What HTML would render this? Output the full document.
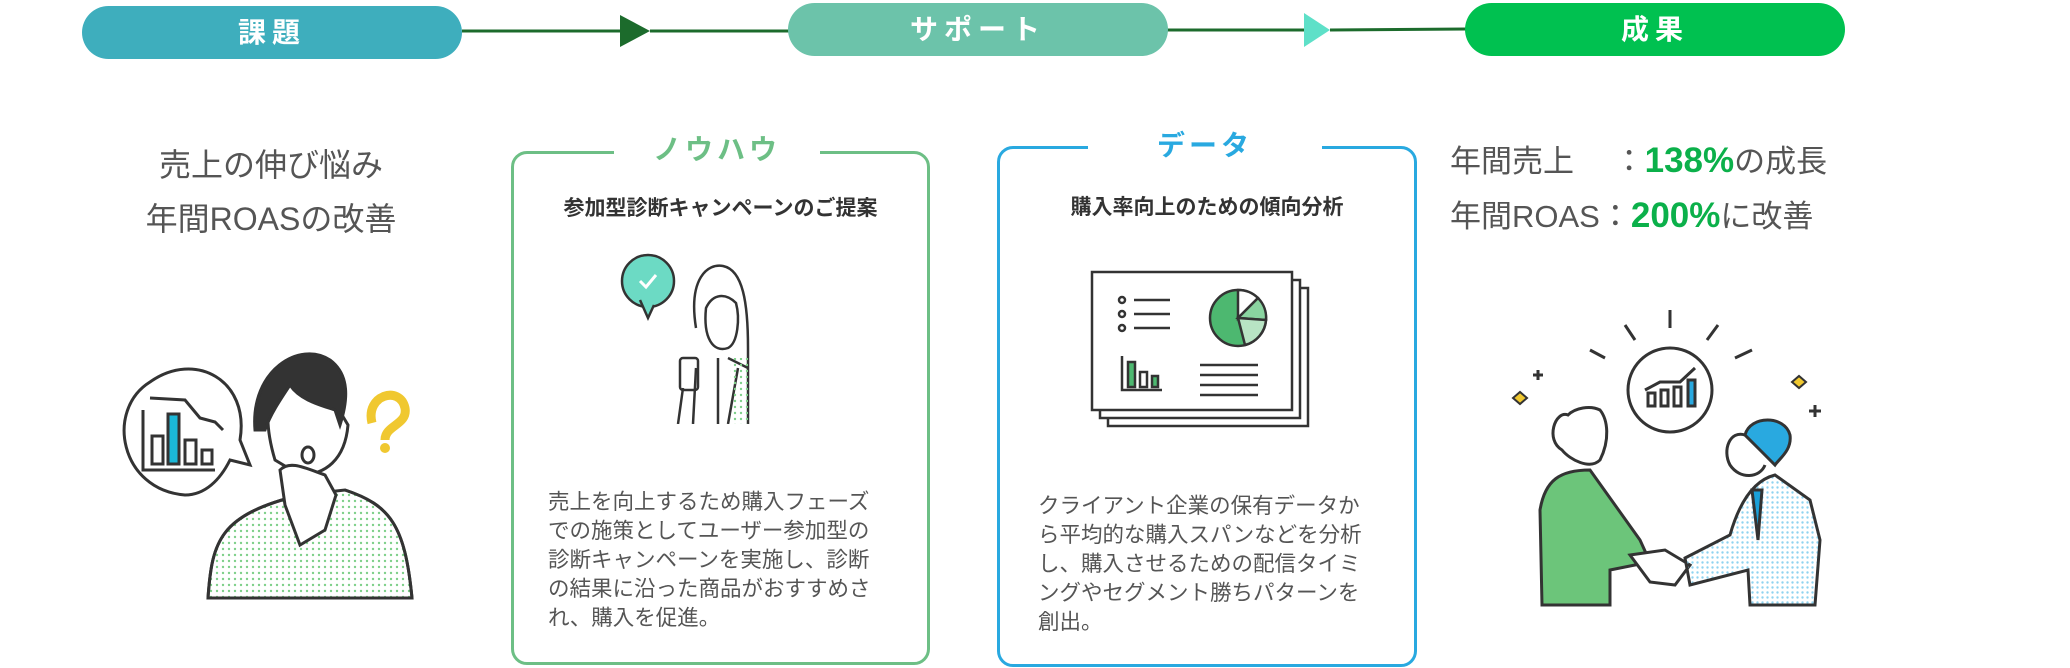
<!DOCTYPE html>
<html><head><meta charset="utf-8"><style>
body{margin:0;width:2070px;height:668px;background:#fff;position:relative;overflow:hidden;font-family:"Liberation Sans","Noto Sans CJK JP",sans-serif;color:#444}
.a{position:absolute}
.pill{position:absolute;border-radius:30px;color:#fff;font-weight:bold;font-size:28px;text-align:center;letter-spacing:6px}
.box{position:absolute;border:3px solid;border-radius:16px;background:#fff}
.tt{position:absolute;background:#fff;font-weight:bold;font-size:28px;text-align:center;letter-spacing:4px}
.sub{position:absolute;left:0;right:0;text-align:center;font-weight:bold;font-size:21px;color:#333;white-space:nowrap}
.body{position:absolute;font-size:21.5px;line-height:29px;color:#555;white-space:nowrap}
</style></head><body>
<svg class="a" style="left:0;top:0" width="2070" height="80">
<line x1="462" y1="31" x2="625" y2="31" stroke="#1c6b2c" stroke-width="3"/>
<polygon points="620,15 650,31 620,47" fill="#1c6b2c"/>
<line x1="650" y1="31" x2="790" y2="31" stroke="#1c6b2c" stroke-width="3"/>
<line x1="1166" y1="30" x2="1305" y2="30" stroke="#1c6b2c" stroke-width="3"/>
<polygon points="1304,13 1330,30 1304,47" fill="#5ee0c8"/>
<line x1="1330" y1="30" x2="1466" y2="29" stroke="#1c6b2c" stroke-width="3"/>
</svg>
<div class="pill" style="left:82px;top:6px;width:380px;height:53px;line-height:53px;background:#3eaebd">課題</div>
<div class="pill" style="left:788px;top:3px;width:380px;height:53px;line-height:53px;background:#6cc3aa">サポート</div>
<div class="pill" style="left:1465px;top:3px;width:380px;height:53px;line-height:53px;background:#00c150">成果</div>

<div class="a" style="left:120px;top:138px;width:302px;text-align:center;font-size:32px;line-height:54px;color:#555">売上の伸び悩み<br>年間ROASの改善</div>

<div class="box" style="left:511px;top:151px;width:413px;height:508px;border-color:#6dbf85">
<div class="sub" style="top:38px">参加型診断キャンペーンのご提案</div>
<div class="body" style="left:34px;top:334px">売上を向上するため購入フェーズ<br>での施策としてユーザー参加型の<br>診断キャンペーンを実施し、診断<br>の結果に沿った商品がおすすめさ<br>れ、購入を促進。</div>
</div>
<div class="tt" style="left:614px;top:128px;width:206px;color:#6dbf85">ノウハウ</div>

<div class="box" style="left:997px;top:146px;width:414px;height:515px;border-color:#29a9e0">
<div class="sub" style="top:42px">購入率向上のための傾向分析</div>
<div class="body" style="left:38px;top:343px">クライアント企業の保有データか<br>ら平均的な購入スパンなどを分析<br>し、購入させるための配信タイミ<br>ングやセグメント勝ちパターンを<br>創出。</div>
</div>
<div class="tt" style="left:1088px;top:124px;width:234px;color:#29a9e0">データ</div>

<div class="a" style="left:1450px;top:134px;font-size:31px;line-height:54px;color:#555;white-space:nowrap">年間売上　 ：<b style="color:#0bb04a;font-size:35px">138%</b>の成長<br>年間ROAS：<b style="color:#0bb04a;font-size:35px">200%</b>に改善</div>

<!-- left illustration -->
<svg class="a" style="left:100px;top:330px" width="340" height="280" fill="none" stroke="#333" stroke-width="3">
<defs><pattern id="dg" width="6" height="6" patternUnits="userSpaceOnUse"><circle cx="3" cy="3" r="1.2" fill="#7fd08a" stroke="none"/></pattern>
<pattern id="db" width="5" height="5" patternUnits="userSpaceOnUse"><circle cx="2.5" cy="2.5" r="1.2" fill="#8fd3f0" stroke="none"/></pattern></defs>
<path d="M85,165 C20,160 5,80 50,52 C95,20 150,50 140,110 L150,135 L130,130 C120,150 105,165 85,165Z" fill="#fff"/>
<path d="M43,80 V140 H115"/><path d="M50,68 L85,70 L100,88 L115,92 L123,100"/>
<rect x="52" y="106" width="11" height="28"/><rect x="68" y="84" width="11" height="50" fill="#1bb8d8"/><rect x="85" y="110" width="11" height="24"/><rect x="102" y="120" width="10" height="14"/>
<path d="M108,268 C112,210 120,185 200,165 L245,160 C290,175 305,195 312,268Z" fill="url(#dg)"/>
<path d="M108,268 C112,210 120,185 200,165 M245,160 C290,175 305,195 312,268"/>
<path d="M175,130 C160,80 170,45 195,38 L230,65 L248,95 C245,130 225,145 200,145 Z" fill="#fff"/>
<path d="M155,100 C150,40 200,10 230,30 C250,45 248,70 240,95 L235,80 C220,75 200,70 190,55 C180,70 170,85 165,100Z" fill="#333"/>
<ellipse cx="208" cy="125" rx="6" ry="8"/>
<path d="M180,140 C190,130 205,138 225,145 L236,165 L225,200 L200,215 L185,175Z" fill="#fff"/>
<path d="M272,93 C265,65 300,55 305,78 C308,95 285,95 285,110" stroke="#f0c830" stroke-width="9"/><circle cx="285" cy="118" r="5" fill="#f0c830" stroke="none"/>
</svg>

<!-- woman -->
<svg class="a" style="left:618px;top:248px" width="150" height="176" fill="none" stroke="#333" stroke-width="2.5">
<circle cx="30" cy="33" r="26" fill="#6cdac4"/><path d="M22,52 L30,70 L36,57" fill="#6cdac4"/>
<path d="M22,33 L28,39 L38,27" stroke="#fff" stroke-width="3"/>
<path d="M78,80 C70,30 90,15 105,18 C125,22 130,55 130,100 L130,176"/>
<path d="M88,60 C85,90 95,105 110,100 C120,95 122,70 118,55 C108,45 95,45 88,60Z"/>
<path d="M78,120 L75,176 M100,110 L100,176 M110,110 L130,120" />
<rect x="62" y="110" width="18" height="32" rx="3"/>
<path d="M65,140 L60,176 M120,120 L110,176"/>
<rect x="112" y="110" width="18" height="66" fill="url(#dg)" stroke="none"/>
</svg>

<!-- chart docs -->
<svg class="a" style="left:1090px;top:270px" width="220" height="158" fill="none" stroke="#333" stroke-width="2.5">
<rect x="18" y="18" width="200" height="138" fill="#fff"/><rect x="10" y="10" width="200" height="138" fill="#fff"/>
<rect x="2" y="2" width="200" height="138" fill="#fff"/>
<circle cx="32" cy="30" r="3"/><circle cx="32" cy="44" r="3"/><circle cx="32" cy="58" r="3"/>
<path d="M44,30 H80 M44,44 H80 M44,58 H80"/>
<circle cx="148" cy="48" r="28" fill="#4db870"/><path d="M148,48 L148,20 A28,28 0 0 1 168,28Z" fill="#fff"/><path d="M148,48 L168,28 A28,28 0 0 1 176,50Z" fill="#8ad4a0"/><path d="M148,48 L176,50 A28,28 0 0 1 155,75Z" fill="#b8e4c4"/>
<path d="M32,86 V120 H72"/><rect x="38" y="92" width="7" height="25" fill="#4db870"/><rect x="50" y="102" width="7" height="15"/><rect x="62" y="106" width="6" height="11" fill="#4db870"/>
<path d="M110,95 H168 M110,105 H168 M110,115 H168 M110,125 H168"/>
</svg>

<!-- handshake -->
<svg class="a" style="left:1490px;top:300px" width="340" height="320" fill="none" stroke="#333" stroke-width="3">
<path d="M180,10 V28 M135,25 L145,40 M100,50 L115,58 M228,25 L217,40 M262,50 L245,58"/>
<circle cx="180" cy="90" r="42" fill="#fff"/>
<path d="M155,90 L170,82 H190 L205,68"/><rect x="158" y="93" width="7" height="13"/><rect x="171" y="90" width="7" height="16"/><rect x="184" y="87" width="7" height="19"/><rect x="198" y="80" width="7" height="26" fill="#29a9e0"/>
<path d="M48,70 V80 M43,75 H53 M325,105 V117 M319,111 H331"/>
<path d="M23,98 L30,92 L37,98 L30,104Z M302,82 L309,76 L316,82 L309,88Z" fill="#f0c830" stroke="#333" stroke-width="2"/>
<path d="M52,305 L50,210 C55,180 70,170 100,170 L150,240 L160,262 L120,270 L120,305Z" fill="#6cc57a"/>
<path d="M78,115 C65,110 55,140 72,150 C80,160 100,170 110,160 C120,140 118,120 110,110 C100,105 85,108 78,115Z" fill="#fff"/>
<path d="M140,255 L175,250 L200,265 L185,285 L160,282Z" fill="#fff"/>
<path d="M195,258 L240,235 C250,200 265,180 285,175 L320,200 L330,240 L325,305 L260,305 L258,270 L200,285Z" fill="url(#db)"/>
<path d="M255,135 C240,130 232,150 240,165 C250,180 270,178 275,165" fill="#fff"/>
<path d="M255,135 C260,115 295,115 300,135 C302,150 290,158 285,165 L270,150 Z" fill="#29a9e0"/>
<path d="M262,190 L272,190 L268,240 Z" fill="#1aa0d8"/>
</svg>
</body></html>
